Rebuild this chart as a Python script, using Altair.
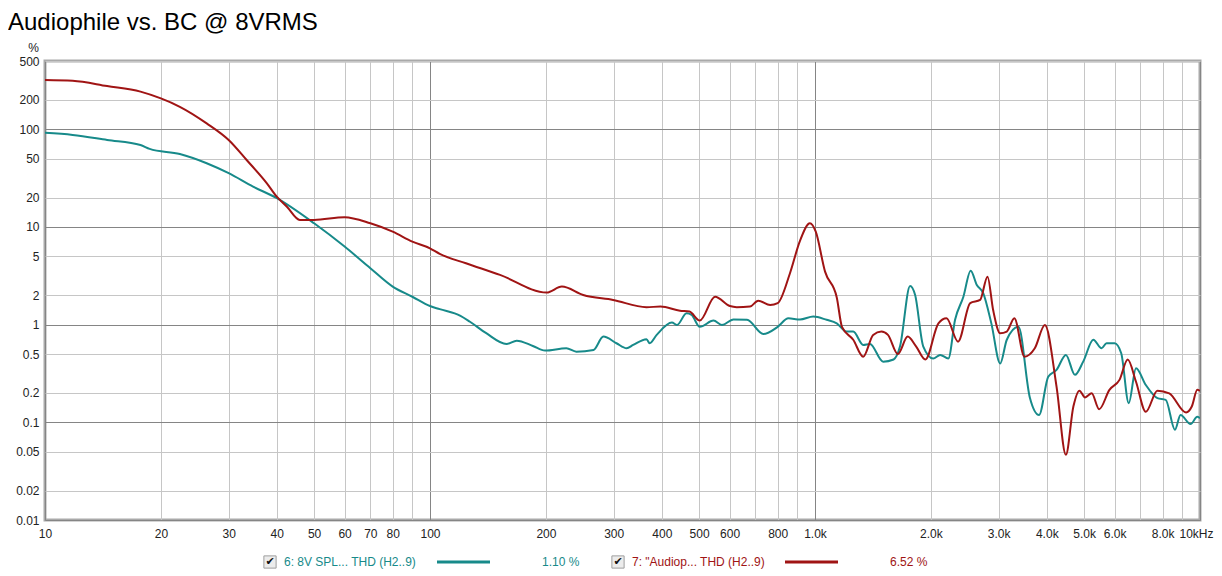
import altair as alt
import pandas as pd

# ---------------- data ----------------
series_names = ["6: 8V SPL... THD (H2..9)", '7: "Audiop... THD (H2..9)']
series_values = ["1.10 %", "6.52 %"]
series_colors = ["#178a8a", "#a01414"]

freq_teal = [10, 11.8, 14.5, 17.7, 18.7, 22.4, 26.3, 30, 34.7, 40, 50, 60, 70, 80, 90,
             100, 106, 120, 127, 140, 158, 168, 185, 199, 226, 240, 266, 282, 305, 324,
             337, 365, 372, 388, 425, 438, 464, 478, 502, 545, 573, 614, 666, 734, 800,
             853, 914, 990, 1072, 1139, 1207, 1257, 1334, 1389, 1503, 1600, 1663, 1766,
             1820, 1910, 2028, 2114, 2220, 2311, 2429, 2537, 2632, 2736, 2871, 3027,
             3149, 3376, 3614, 3820, 4034, 4240, 4484, 4733, 4973, 5284, 5550, 5718,
             6000, 6243, 6530, 6820, 7232, 7750, 8146, 8610, 8900, 9450, 9840, 10000]
thd_teal = [92, 87.5, 77.7, 69, 63, 55.8, 44.9, 35.5, 25.9, 19.7, 10.9, 6.3, 3.78, 2.45, 1.93,
            1.55, 1.44, 1.23, 1.07, 0.817, 0.634, 0.686, 0.605, 0.542, 0.573, 0.529, 0.551,
            0.754, 0.645, 0.573, 0.62, 0.71, 0.645, 0.785, 1.05, 0.99, 1.31, 1.26, 0.95,
            1.10, 0.99, 1.13, 1.12, 0.80, 0.95, 1.16, 1.13, 1.21, 1.12, 1.03, 0.85, 0.85,
            0.62, 0.635, 0.418, 0.44, 0.60, 2.49, 2.01, 0.60, 0.45, 0.49, 0.45, 1.12, 1.93,
            3.57, 2.55, 2.09, 1.03, 0.40, 0.70, 0.95, 0.18, 0.119, 0.293, 0.344, 0.49,
            0.306, 0.418, 0.70, 0.573, 0.645, 0.645, 0.51, 0.157, 0.358, 0.241, 0.177,
            0.17, 0.084, 0.119, 0.096, 0.114, 0.11]

freq_red = [10, 11.8, 14.5, 17.7, 20, 22.4, 26.3, 30, 33.4, 37.7, 40, 42.5, 45.9, 50, 60,
            70, 80, 90, 100, 106, 124, 152, 201, 220, 250, 299, 365, 397, 446, 472, 502,
            550, 601, 626, 678, 712, 765, 800, 861, 914, 970, 1004, 1062, 1139, 1175,
            1257, 1334, 1416, 1487, 1547, 1641, 1741, 1830, 1935, 2092, 2196, 2353, 2530,
            2685, 2806, 2902, 3027, 3149, 3295, 3501, 3723, 3955, 4240, 4484, 4689, 4862,
            5029, 5232, 5470, 5818, 6178, 6490, 6820, 7232, 7750, 8320, 9200, 9520, 9840,
            10000]
thd_red = [320, 314, 277, 243, 207, 170, 115, 77.7, 48.5, 28, 20.4, 16.1, 11.8, 11.8, 12.6,
           10.9, 8.95, 7.07, 6.05, 5.3, 4.25, 3.23, 2.13, 2.45, 2.01, 1.79, 1.51, 1.53, 1.39,
           1.36, 1.10, 1.93, 1.55, 1.51, 1.53, 1.76, 1.59, 1.66, 3.36, 7.2, 10.9, 9.0, 3.49,
           1.9, 0.95, 0.70, 0.47, 0.785, 0.85, 0.785, 0.50, 0.754, 0.60, 0.44, 1.03, 1.16,
           0.67, 1.66, 1.79, 3.10, 1.41, 0.817, 0.85, 1.16, 0.47, 0.573, 0.99, 0.232,
           0.0465, 0.145, 0.211, 0.18, 0.198, 0.136, 0.215, 0.272, 0.44, 0.26, 0.128, 0.211,
           0.198, 0.126, 0.145, 0.215, 0.21]

x_tick_values = [10, 20, 30, 40, 50, 60, 70, 80, 90, 100, 200, 300, 400, 500, 600, 700, 800,
                 900, 1000, 2000, 3000, 4000, 5000, 6000, 7000, 8000, 9000, 10000]
x_tick_labels = ["10", "20", "30", "40", "50", "60", "70", "80", "", "100", "200", "300",
                 "400", "500", "600", "", "800", "", "1.0k", "2.0k", "3.0k", "4.0k", "5.0k",
                 "6.0k", "", "8.0k", "", "10kHz"]
y_tick_values = [500, 200, 100, 50, 20, 10, 5, 2, 1, 0.5, 0.2, 0.1, 0.05, 0.02, 0.01]
y_tick_labels = ["500", "200", "100", "50", "20", "10", "5", "2", "1", "0.5", "0.2", "0.1",
                 "0.05", "0.02", "0.01"]
x_major = [10, 100, 1000, 10000]
y_major = [0.01, 0.1, 1, 10, 100]

FONT = "Liberation Sans"
W, H = 1155, 459


def js_list(vals, quote=False):
    if quote:
        return "[" + ",".join("'" + v + "'" for v in vals) + "]"
    return "[" + ",".join(repr(v) for v in vals) + "]"


x_label_expr = f"{js_list(x_tick_labels, True)}[indexof({js_list(x_tick_values)}, datum.value)]"
y_label_expr = f"{js_list(y_tick_labels, True)}[indexof({js_list(y_tick_values)}, datum.value)]"

x_axis = alt.Axis(
    values=x_tick_values, labelExpr=x_label_expr, title=None, ticks=False, domain=False,
    grid=True, labelFont=FONT, labelFontSize=12, labelColor="#222", labelPadding=8,
    labelAngle=0, labelOverlap=False, labelFlush=False, labelAlign="center",
    labelOffset={"condition": {"test": "datum.value == 10000", "value": -4}, "value": 0},
    gridColor={"condition": {"test": f"indexof({js_list(x_major)}, datum.value) >= 0",
                             "value": "#858585"}, "value": "#c6c6c6"},
    gridWidth=1,
)
y_axis = alt.Axis(
    values=y_tick_values, labelExpr=y_label_expr, title="%", titleAngle=0, titleX=-12,
    titleY=-10, titleAlign="center", titleBaseline="alphabetic", titleFont=FONT,
    titleFontSize=12, titleFontWeight="normal", titleColor="#222", ticks=False,
    domain=False, grid=True, labelFont=FONT, labelFontSize=12, labelColor="#222",
    labelPadding=6, labelOverlap=False, labelFlush=False, labelBaseline="middle",
    gridColor={"condition": {"test": f"indexof({js_list(y_major)}, datum.value) >= 0",
                             "value": "#858585"}, "value": "#c6c6c6"},
    gridWidth=1,
)

x_enc = alt.X("f:Q", scale=alt.Scale(type="log", domain=[10, 10000], nice=False), axis=x_axis)
y_enc = alt.Y("v:Q", scale=alt.Scale(type="log", domain=[0.01, 500], nice=False), axis=y_axis)

df_teal = pd.DataFrame({"f": freq_teal, "v": thd_teal})
df_red = pd.DataFrame({"f": freq_red, "v": thd_red})

teal_line = alt.Chart(df_teal).mark_line(
    color=series_colors[0], strokeWidth=2, interpolate="monotone", clip=True
).encode(x=x_enc, y=y_enc, order="f:Q")
red_line = alt.Chart(df_red).mark_line(
    color=series_colors[1], strokeWidth=2, interpolate="monotone", clip=True
).encode(x=x_enc, y=y_enc, order="f:Q")

# ---------------- custom legend below the plot ----------------
legend_layers = []
LEG_Y = 501
item_offsets = [0, 348]
for i, (name, val, col) in enumerate(zip(series_names, series_values, series_colors)):
    dx = item_offsets[i]
    one = pd.DataFrame({"name": [name], "val": [val]})
    box = alt.Chart(one).mark_square(
        size=150, filled=True, color="#e4e4e4", stroke="#777", strokeWidth=1
    ).encode(x=alt.value(225 + dx), y=alt.value(LEG_Y))
    tick = alt.Chart(one).mark_text(
        text="\u2714", font="DejaVu Sans", fontSize=11, color="#111", align="center",
        baseline="middle"
    ).encode(x=alt.value(225 + dx), y=alt.value(LEG_Y))
    label = alt.Chart(one).mark_text(
        font=FONT, fontSize=12, color=col, align="left", baseline="middle"
    ).encode(x=alt.value(239 + dx), y=alt.value(LEG_Y), text="name:N")
    sample = alt.Chart(one).mark_rule(color=col, strokeWidth=3).encode(
        x=alt.value(392 + dx), x2=alt.value(445 + dx), y=alt.value(LEG_Y)
    )
    value = alt.Chart(one).mark_text(
        font=FONT, fontSize=12, color=col, align="left", baseline="middle"
    ).encode(x=alt.value(497 + dx), y=alt.value(LEG_Y), text="val:N")
    legend_layers += [box, tick, label, sample, value]

chart = alt.layer(teal_line, red_line, *legend_layers).properties(
    width=W,
    height=H,
    autosize=alt.AutoSizeParams(type="none"),
    padding={"left": 37, "top": 53, "right": 14, "bottom": 56},
    title=alt.TitleParams(
        text="Audiophile vs. BC @ 8VRMS", anchor="start", frame="group", dx=-37,
        fontSize=24, font=FONT, fontWeight="normal", color="#000", offset=6,
    ),
).configure_view(stroke="#a9a9a9", strokeWidth=3)

chart.save("out.html", embed_options={"renderer": "svg", "actions": False})
